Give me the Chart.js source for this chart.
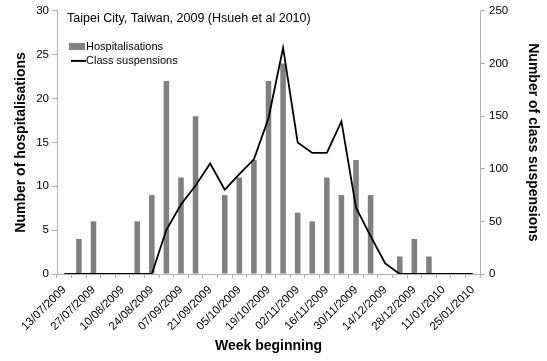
<!DOCTYPE html>
<html>
<head>
<meta charset="utf-8">
<script src="https://cdn.jsdelivr.net/npm/chart.js@4/dist/chart.umd.min.js"></script>
<style>
  html, body { margin: 0; padding: 0; background: #fff; }
  #wrap { width: 547px; height: 361px; }
</style>
</head>
<body>
<div id="wrap"><canvas id="fluChart"></canvas></div>
<script>
const weeks = [
    '13/07/2009', '20/07/2009', '27/07/2009', '03/08/2009', '10/08/2009', '17/08/2009',
    '24/08/2009', '31/08/2009', '07/09/2009', '14/09/2009', '21/09/2009', '28/09/2009',
    '05/10/2009', '12/10/2009', '19/10/2009', '26/10/2009', '02/11/2009', '09/11/2009',
    '16/11/2009', '23/11/2009', '30/11/2009', '07/12/2009', '14/12/2009', '21/12/2009',
    '28/12/2009', '04/01/2010', '11/01/2010', '18/01/2010', '25/01/2010'
];
const hospitalisations = [0, 4, 6, 0, 0, 6, 9, 22, 11, 18, 0, 9, 11, 13, 22, 24, 7, 6, 11, 9, 13, 9, 0, 2, 4, 2, 0, 0, 0];
const classSuspensions = [0, 0, 0, 0, 0, 0, 0, 42, 66, 84, 105, 80, 95, 109, 148, 215, 125, 115, 115, 145, 63, 36, 10, 0, 0, 0, 0, 0, 0];
const chartNote = 'Taipei City, Taiwan, 2009 (Hsueh et al 2010)';

const FONT = "'Liberation Sans', Arial, sans-serif";
const AXIS_GREY = '#b3b3b3';

// Caption and legend sit inside the plot area, top left
const insideLegendPlugin = {
    id: 'insideLegendPlugin',
    afterDraw: (chart) => {
        const ctx = chart.ctx;
        const { left, top } = chart.chartArea;
        const bars = chart.data.datasets[0];
        const line = chart.data.datasets[1];

        ctx.save();
        ctx.font = '12.5px ' + FONT;
        ctx.fillStyle = '#000';
        ctx.textAlign = 'left';
        ctx.textBaseline = 'middle';
        ctx.fillText(chartNote, left + 10, top + 8);

        ctx.font = '11px ' + FONT;
        ctx.fillStyle = bars.backgroundColor;
        ctx.fillRect(left + 12, top + 32, 16, 7);
        ctx.fillStyle = '#000';
        ctx.fillText(bars.label, left + 29, top + 36);

        ctx.strokeStyle = line.borderColor;
        ctx.lineWidth = 2;
        ctx.beginPath();
        ctx.moveTo(left + 14, top + 50);
        ctx.lineTo(left + 29, top + 50);
        ctx.stroke();
        ctx.fillText(line.label, left + 29, top + 50);
        ctx.restore();
    }
};

const ctx = document.getElementById('fluChart').getContext('2d');
const fluChart = new Chart(ctx, {
    type: 'bar',
    data: {
        labels: weeks,
        datasets: [{
            type: 'bar',
            label: 'Hospitalisations',
            data: hospitalisations,
            backgroundColor: '#808080',
            borderWidth: 0,
            barPercentage: 0.38,
            categoryPercentage: 1,
            yAxisID: 'y',
            order: 1
        },
        {
            type: 'line',
            label: 'Class suspensions',
            data: classSuspensions,
            borderColor: '#000',
            borderWidth: 1.8,
            pointRadius: 0,
            tension: 0,
            fill: false,
            yAxisID: 'y2',
            order: 0
        }]
    },
    options: {
        responsive: true,
        maintainAspectRatio: false,
        animation: false,
        layout: {
            padding: { top: 10, left: 0, right: 0, bottom: 0 }
        },
        scales: {
            x: {
                offset: true,
                grid: {
                    offset: true,
                    drawOnChartArea: false,
                    color: AXIS_GREY,
                    tickLength: 4
                },
                border: { color: AXIS_GREY },
                ticks: {
                    autoSkip: false,
                    minRotation: 45,
                    maxRotation: 45,
                    padding: 5,
                    color: '#000',
                    font: { family: FONT, size: 11.5 },
                    callback: function (value, index) {
                        return index % 2 === 0 ? this.getLabelForValue(value) : '';
                    }
                },
                title: {
                    display: true,
                    text: 'Week beginning',
                    color: '#000',
                    font: { family: FONT, size: 14, weight: 'bold' },
                    padding: { top: 0, bottom: 6 }
                },
                afterFit: (scale) => { scale.height = 87; }
            },
            y: {
                position: 'left',
                min: 0,
                max: 30,
                grid: {
                    drawOnChartArea: false,
                    color: AXIS_GREY,
                    tickLength: 5
                },
                border: { color: AXIS_GREY },
                ticks: {
                    stepSize: 5,
                    padding: 3,
                    color: '#000',
                    font: { family: FONT, size: 11.5 }
                },
                title: {
                    display: true,
                    text: 'Number of hospitalisations',
                    color: '#000',
                    font: { family: FONT, size: 14, weight: 'bold' },
                    padding: { top: 13, bottom: 0 }
                },
                afterFit: (scale) => { scale.width = 57; }
            },
            y2: {
                position: 'right',
                min: 0,
                max: 250,
                grid: {
                    drawOnChartArea: false,
                    color: AXIS_GREY,
                    tickLength: 5
                },
                border: { color: AXIS_GREY },
                ticks: {
                    stepSize: 50,
                    padding: 4,
                    color: '#000',
                    font: { family: FONT, size: 11.5 }
                },
                title: {
                    display: true,
                    text: 'Number of class suspensions',
                    color: '#000',
                    font: { family: FONT, size: 14, weight: 'bold' },
                    padding: { top: 6, bottom: 0 }
                },
                afterFit: (scale) => { scale.width = 67; }
            }
        },
        plugins: {
            legend: { display: false },
            tooltip: { enabled: false }
        }
    },
    plugins: [insideLegendPlugin]
});
</script>
</body>
</html>
